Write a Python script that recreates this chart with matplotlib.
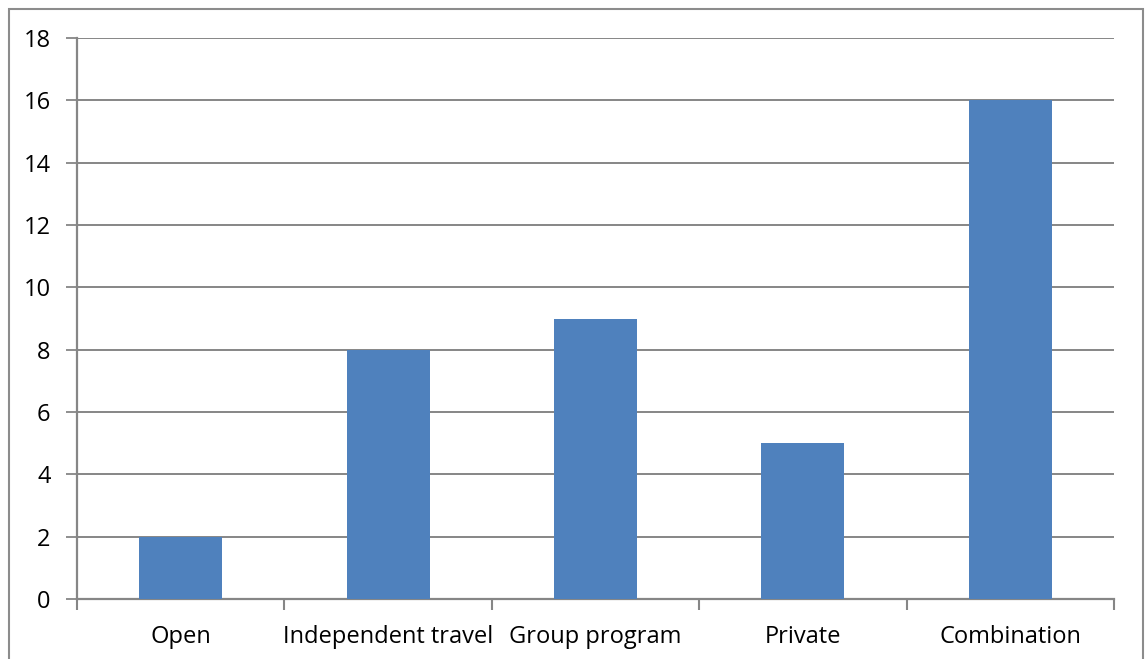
import matplotlib
matplotlib.use("Agg")
import matplotlib.pyplot as plt
from matplotlib.patches import Rectangle
import numpy as np

categories = ["Open", "Independent travel", "Group program", "Private", "Combination"]
values = [2, 8, 9, 5, 16]
y_ticks = [0, 2, 4, 6, 8, 10, 12, 14, 16, 18]

W, H = 1146, 659
fig = plt.figure(figsize=(W / 100, H / 100), dpi=100)
plt.rcParams["font.family"] = ["Open Sans", "DejaVu Sans"]

# chart frame
fig.patches.append(Rectangle((9 / W, -0.05), (1143 - 9) / W, (H - 9) / H + 0.05,
                             transform=fig.transFigure, fill=False,
                             edgecolor="#8c8c8c", linewidth=1.5))

left, right, top, bottom = 77, 1114, 38, 599
ax = fig.add_axes([left / W, 1 - bottom / H, (right - left) / W, (bottom - top) / H])

grid_c = "#868686"
x = np.arange(len(categories))
ax.bar(x, values, width=0.4, color="#4F81BD", zorder=3)
ax.set_xlim(-0.5, len(categories) - 0.5)
ax.set_ylim(0, 18)
ax.set_yticks(y_ticks)
ax.yaxis.grid(True, color=grid_c, linewidth=1.4)
ax.set_axisbelow(True)

for s in ["top", "right"]:
    ax.spines[s].set_visible(False)
for s in ["left", "bottom"]:
    ax.spines[s].set_color(grid_c)
    ax.spines[s].set_linewidth(1.6)

ax.set_xticks(np.arange(-0.5, len(categories)), minor=False)
ax.set_xticklabels([])
ax.set_xticks(x, minor=True)
ax.set_xticklabels(categories, minor=True)
ax.tick_params(axis="x", which="major", length=8, width=1.5, color=grid_c, direction="out")
ax.tick_params(axis="x", which="minor", length=0, labelsize=17, pad=19)
ax.tick_params(axis="y", length=8, width=1.3, color=grid_c, labelsize=17, pad=11)

fig.savefig("out.png", dpi=100)
